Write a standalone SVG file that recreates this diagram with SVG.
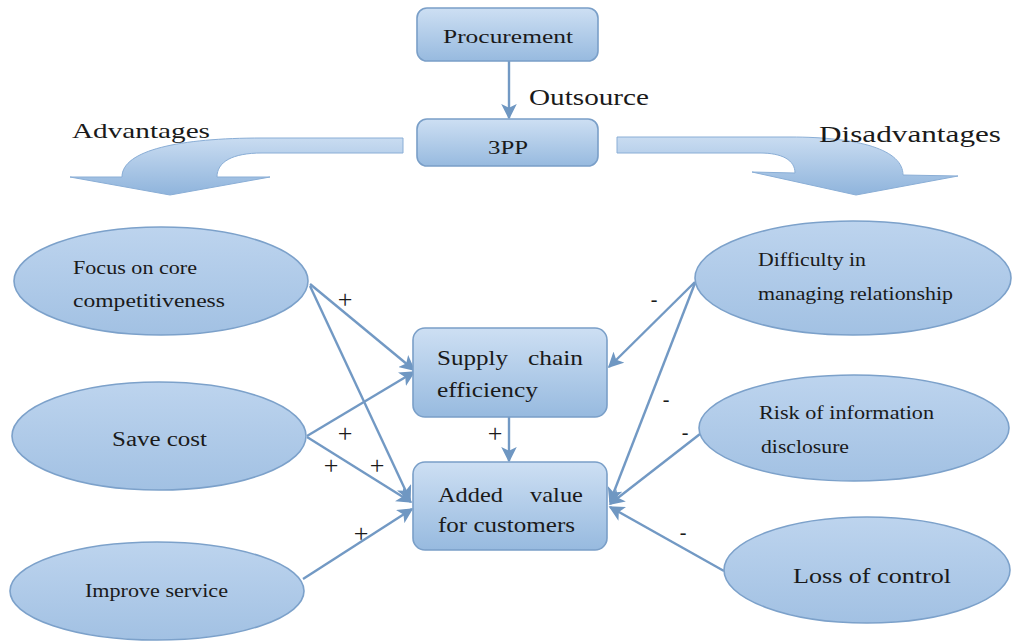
<svg xmlns="http://www.w3.org/2000/svg" width="1012" height="641" viewBox="0 0 1012 641">
<defs>
<linearGradient id="gBox" x1="0" y1="0" x2="0" y2="1">
<stop offset="0" stop-color="#cddff3"/>
<stop offset="1" stop-color="#97badf"/>
</linearGradient>
<linearGradient id="gEl" x1="0" y1="0" x2="0" y2="1">
<stop offset="0" stop-color="#bdd4ee"/>
<stop offset="1" stop-color="#a2c1e3"/>
</linearGradient>
<linearGradient id="gArr" x1="0" y1="0" x2="0" y2="1">
<stop offset="0" stop-color="#c9dcf1"/>
<stop offset="1" stop-color="#8fb4dc"/>
</linearGradient>
<marker id="ah" viewBox="0 0 10 10" refX="9" refY="5" markerWidth="6.5" markerHeight="6.5" orient="auto" markerUnits="strokeWidth">
<path d="M0,0 L10,5 L0,10 L2.5,5 Z" fill="#6f97c2"/>
</marker>
</defs>
<style>
.box{fill:url(#gBox);stroke:#7a9fc8;stroke-width:1.6}
.el{fill:url(#gEl);stroke:#7ca1ca;stroke-width:1.6}
text{font-family:"Liberation Serif","DejaVu Serif","Noto Serif",serif;fill:#1a1a1a}
.c{stroke:#7299c4;stroke-width:2.4;fill:none;marker-end:url(#ah)}
.big{fill:url(#gArr);stroke:#8aaed6;stroke-width:1}
.s{font-size:26px;text-anchor:middle}
.m{font-size:20px;text-anchor:middle}
</style>
<rect width="1012" height="641" fill="#ffffff"/>

<g id="connectors">
<line class="c" x1="509" y1="61" x2="509" y2="118"/>
<line class="c" x1="509" y1="417" x2="509" y2="461"/>
<line class="c" x1="310" y1="284" x2="414" y2="370"/>
<line class="c" x1="310" y1="286" x2="410" y2="500"/>
<line class="c" x1="307" y1="436" x2="414" y2="372"/>
<line class="c" x1="307" y1="437" x2="411" y2="502"/>
<line class="c" x1="303" y1="579" x2="412" y2="509"/>
<line class="c" x1="695" y1="282" x2="609" y2="367"/>
<line class="c" x1="695" y1="283" x2="610" y2="502"/>
<line class="c" x1="700" y1="434" x2="610" y2="504"/>
<line class="c" x1="724" y1="571" x2="610" y2="507"/>
</g>

<g id="big-arrows">
<path class="big" d="M403,138 L262,138 C180,138 122,150 122,177 L70,177 L170,195 L270,177 L217,177 C217,162 232,153 262,153 L403,153 Z"/>
<path class="big" d="M617,137 L790,137 C860,137 903,150 903,175 L958,176 L856,195 L752,172 L795,173 C795,160 782,153 760,153 L617,153 Z"/>
</g>

<g id="procurement">
<rect class="box" x="417" y="8" width="181" height="53" rx="10"/>
<text x="443" y="43" font-size="18" textLength="130" lengthAdjust="spacingAndGlyphs">Procurement</text>
</g>
<g id="tpp">
<rect class="box" x="417" y="119" width="181" height="47" rx="10"/>
<text x="488" y="154" font-size="18" textLength="40" lengthAdjust="spacingAndGlyphs">3PP</text>
</g>

<text x="529" y="105" font-size="23" textLength="120" lengthAdjust="spacingAndGlyphs">Outsource</text>
<text x="72" y="138" font-size="22" textLength="138" lengthAdjust="spacingAndGlyphs">Advantages</text>
<text x="819" y="142" font-size="23" textLength="182" lengthAdjust="spacingAndGlyphs">Disadvantages</text>

<g id="focus">
<ellipse class="el" cx="161" cy="281" rx="147" ry="54"/>
<text x="73" y="274" font-size="18" textLength="124" lengthAdjust="spacingAndGlyphs">Focus on core</text>
<text x="73" y="307" font-size="18" textLength="152" lengthAdjust="spacingAndGlyphs">competitiveness</text>
</g>
<g id="save">
<ellipse class="el" cx="159" cy="436" rx="147" ry="54"/>
<text x="112" y="446" font-size="20" textLength="95" lengthAdjust="spacingAndGlyphs">Save cost</text>
</g>
<g id="improve">
<ellipse class="el" cx="157" cy="591" rx="147" ry="49"/>
<text x="85" y="597" font-size="19" textLength="143" lengthAdjust="spacingAndGlyphs">Improve service</text>
</g>

<g id="difficulty">
<ellipse class="el" cx="853" cy="278" rx="158" ry="57"/>
<text x="758" y="266" font-size="18" textLength="108" lengthAdjust="spacingAndGlyphs">Difficulty in</text>
<text x="758" y="300" font-size="18" textLength="195" lengthAdjust="spacingAndGlyphs">managing relationship</text>
</g>
<g id="risk">
<ellipse class="el" cx="854" cy="428" rx="155" ry="53"/>
<text x="759" y="419" font-size="18" textLength="175" lengthAdjust="spacingAndGlyphs">Risk of information</text>
<text x="761" y="453" font-size="18" textLength="88" lengthAdjust="spacingAndGlyphs">disclosure</text>
</g>
<g id="loss">
<ellipse class="el" cx="867" cy="570" rx="143" ry="53"/>
<text x="793" y="583" font-size="21" textLength="158" lengthAdjust="spacingAndGlyphs">Loss of control</text>
</g>

<g id="supply">
<rect class="box" x="413" y="328" width="194" height="89" rx="12"/>
<text x="437" y="365" font-size="22" textLength="71" lengthAdjust="spacingAndGlyphs">Supply</text>
<text x="528" y="365" font-size="22" textLength="55" lengthAdjust="spacingAndGlyphs">chain</text>
<text x="437" y="397" font-size="22" textLength="101" lengthAdjust="spacingAndGlyphs">efficiency</text>
</g>
<g id="added">
<rect class="box" x="413" y="462" width="194" height="88" rx="12"/>
<text x="438" y="502" font-size="22" textLength="65" lengthAdjust="spacingAndGlyphs">Added</text>
<text x="530" y="502" font-size="22" textLength="53" lengthAdjust="spacingAndGlyphs">value</text>
<text x="438" y="532" font-size="22" textLength="137" lengthAdjust="spacingAndGlyphs">for customers</text>
</g>

<g id="signs">
<text class="s" x="345" y="308">+</text>
<text class="s" x="345" y="442">+</text>
<text class="s" x="331" y="474">+</text>
<text class="s" x="377" y="474">+</text>
<text class="s" x="361" y="542">+</text>
<text class="s" x="495" y="442">+</text>
<text class="m" x="654" y="306">-</text>
<text class="m" x="666" y="406">-</text>
<text class="m" x="685" y="439">-</text>
<text class="m" x="683" y="539">-</text>
</g>
</svg>
